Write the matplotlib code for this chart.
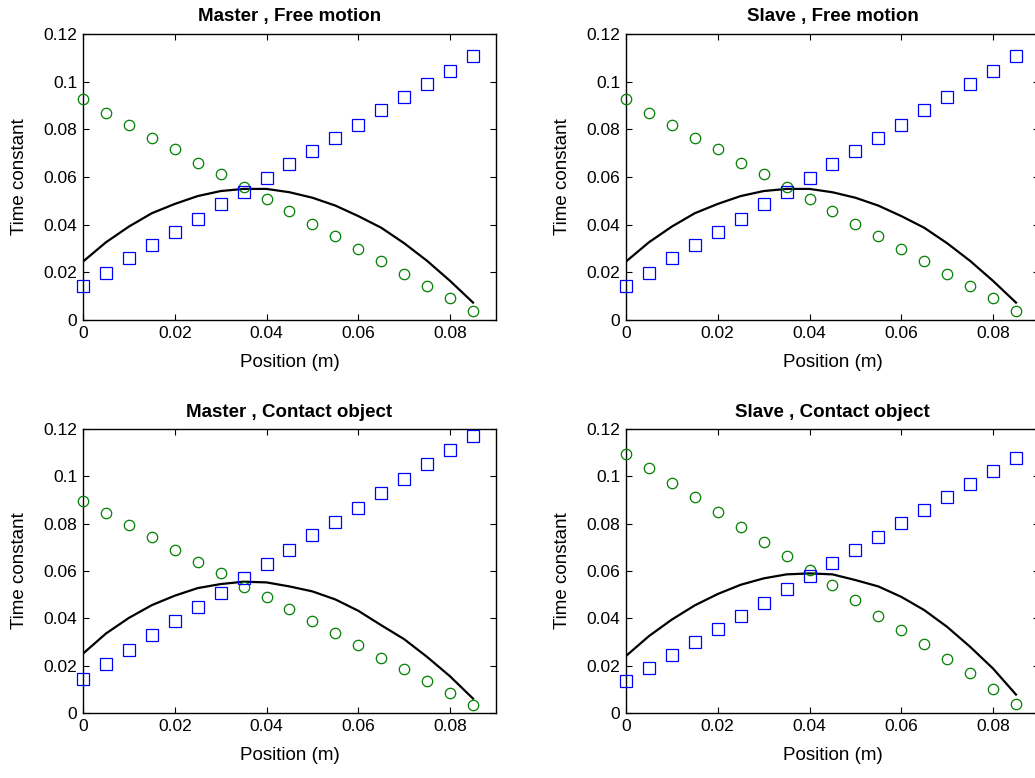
"""
Time constants along the travel, master and slave, free motion and contact.
MATLAB-style 2x2 panel figure.
"""

import numpy as np
import matplotlib
matplotlib.use("Agg")
import matplotlib.pyplot as plt
from matplotlib.ticker import FuncFormatter

plt.rcParams["font.family"] = ["Liberation Sans", "DejaVu Sans"]

position = np.arange(18) * 0.005   # 0 .. 0.085 m

# Master, free motion (slave free motion reads identical off the plot)
free_circ = [0.0926, 0.0870, 0.0820, 0.0765, 0.0716, 0.0660, 0.0611, 0.0557, 0.0506,
             0.0457, 0.0401, 0.0352, 0.0298, 0.0248, 0.0193, 0.0144, 0.0094, 0.0039]
free_sq = [0.0144, 0.0199, 0.0259, 0.0315, 0.0369, 0.0424, 0.0485, 0.0536, 0.0594,
           0.0656, 0.0710, 0.0765, 0.0820, 0.0881, 0.0936, 0.0990, 0.1046, 0.1106]
free_line = [0.0245, 0.0326, 0.0392, 0.0448, 0.0487, 0.0520, 0.0541, 0.0550, 0.0550,
             0.0536, 0.0513, 0.0480, 0.0436, 0.0387, 0.0322, 0.0248, 0.0164, 0.0073]

# Master, contact object
mc_circ = [0.0896, 0.0846, 0.0796, 0.0745, 0.0690, 0.0640, 0.0590, 0.0534, 0.0490,
           0.0439, 0.0390, 0.0340, 0.0289, 0.0234, 0.0184, 0.0134, 0.0085, 0.0034]
mc_sq = [0.0145, 0.0206, 0.0268, 0.0329, 0.0390, 0.0450, 0.0507, 0.0569, 0.0630,
         0.0690, 0.0751, 0.0808, 0.0868, 0.0929, 0.0991, 0.1052, 0.1112, 0.1169]
mc_line = [0.0251, 0.0336, 0.0402, 0.0456, 0.0496, 0.0528, 0.0545, 0.0555, 0.0552,
           0.0535, 0.0514, 0.0480, 0.0432, 0.0371, 0.0312, 0.0237, 0.0155, 0.0061]

# Slave, contact object
sc_circ = [0.1096, 0.1035, 0.0973, 0.0912, 0.0851, 0.0785, 0.0723, 0.0662, 0.0603,
           0.0541, 0.0479, 0.0412, 0.0352, 0.0291, 0.0230, 0.0168, 0.0103, 0.0040]
sc_sq = [0.0134, 0.0191, 0.0246, 0.0301, 0.0356, 0.0412, 0.0467, 0.0524, 0.0579,
         0.0634, 0.0690, 0.0745, 0.0802, 0.0857, 0.0912, 0.0968, 0.1024, 0.1078]
sc_line = [0.0241, 0.0325, 0.0395, 0.0455, 0.0503, 0.0542, 0.0569, 0.0586, 0.0590,
           0.0586, 0.0562, 0.0535, 0.0491, 0.0435, 0.0364, 0.0280, 0.0188, 0.0078]

PANELS = [
    ("Master , Free motion", free_circ, free_sq, free_line, [0.0802, 0.5887, 0.399, 0.3676]),
    ("Slave , Free motion", free_circ, free_sq, free_line, [0.6048, 0.5887, 0.399, 0.3676]),
    ("Master , Contact object", mc_circ, mc_sq, mc_line, [0.0802, 0.0835, 0.399, 0.3650]),
    ("Slave , Contact object", sc_circ, sc_sq, sc_line, [0.6048, 0.0835, 0.399, 0.3650]),
]

fmt = FuncFormatter(lambda v, _: f"{v:g}")

fig = plt.figure(figsize=(10.35, 7.78), dpi=100)
for title, circ, sq, line, pos in PANELS:
    ax = fig.add_axes(pos)
    ax.plot(position, line, color="black", lw=1.6, zorder=2)
    ax.plot(position, circ, "o", ls="none", mfc="none", mec=(0, 0.5, 0),
            ms=7.5, mew=0.9, zorder=3, clip_on=False)
    ax.plot(position, sq, "s", ls="none", mfc="none", mec=(0, 0, 1),
            ms=8.2, mew=0.9, zorder=3, clip_on=False)
    ax.set_xlim(0, 0.09)
    ax.set_ylim(0, 0.12)
    ax.set_xticks([0, 0.02, 0.04, 0.06, 0.08])
    ax.set_yticks([0, 0.02, 0.04, 0.06, 0.08, 0.1, 0.12])
    ax.xaxis.set_major_formatter(fmt)
    ax.yaxis.set_major_formatter(fmt)
    ax.tick_params(direction="in", top=True, right=True, length=4, width=0.8,
                   labelsize=12.5, pad=4)
    for s in ax.spines.values():
        s.set_linewidth(1.0)
    ax.set_xlabel("Position (m)", fontsize=13.5, labelpad=10)
    ax.set_ylabel("Time constant", fontsize=13.5, labelpad=11)
    ax.set_title(title, fontsize=13.5, fontweight="bold", pad=9)

fig.savefig("out.png", dpi=100)
